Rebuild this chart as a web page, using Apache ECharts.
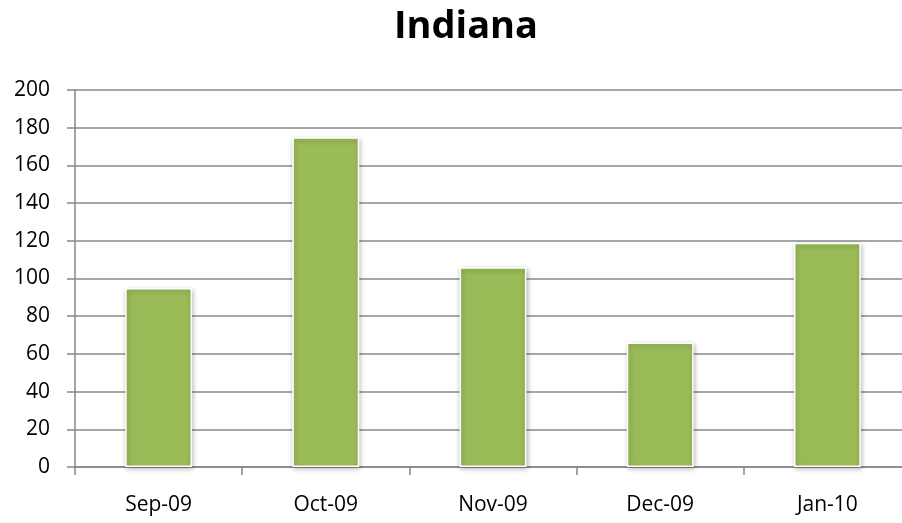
<!DOCTYPE html>
<html>
<head>
<meta charset="utf-8">
<script src="https://cdn.jsdelivr.net/npm/echarts@6/dist/echarts.min.js"></script>
<style>
  html, body { margin: 0; padding: 0; background: #fff; }
  #chart { width: 902px; height: 523px; }
</style>
</head>
<body>
<div id="chart"></div>
<script>
var months = ['Sep-09', 'Oct-09', 'Nov-09', 'Dec-09', 'Jan-10']
var counts = [95, 175, 106, 66, 119]
var yTicks = { min: 0, max: 200, step: 20 }

var myChart = echarts.init(document.getElementById('chart'))

var option = {
    backgroundColor: '#ffffff',
    animation: false,
    title: {
        text: 'Indiana',
        left: 461,
        textAlign: 'center',
        top: 3,
        textStyle: {
            fontFamily: 'Open Sans',
            fontSize: 38,
            fontWeight: 'bold',
            color: '#000'
        }
    },
    grid: {
        left: 75,
        width: 836,
        top: 90,
        bottom: 56,
        outerBoundsMode: 'none',
        containLabel: false
    },
    xAxis: {
        type: 'category',
        data: months,
        axisLine: { lineStyle: { color: '#868686', width: 1.5 } },
        axisTick: { show: true, length: 8, lineStyle: { color: '#868686', width: 1.5 } },
        axisLabel: {
            margin: 28,
            fontFamily: 'Open Sans',
            fontSize: 21,
            color: '#000'
        }
    },
    yAxis: {
        type: 'value',
        min: yTicks.min,
        max: yTicks.max,
        interval: yTicks.step,
        axisLine: { show: true, lineStyle: { color: '#868686', width: 1.5 } },
        axisTick: { show: true, length: 8, lineStyle: { color: '#868686', width: 1.5 } },
        splitLine: { lineStyle: { color: '#8a8a8a', width: 1.5 } },
        axisLabel: {
            margin: 25,
            fontFamily: 'Open Sans',
            fontSize: 21,
            color: '#000'
        }
    },
    series: [
        {
            name: 'Indiana',
            type: 'bar',
            data: counts,
            barWidth: '40%',
            itemStyle: {
                color: '#9BBB59',
                borderColor: '#ffffff',
                borderWidth: 1.5,
                shadowColor: 'rgba(0,0,0,0.3)',
                shadowBlur: 5,
                shadowOffsetX: 1,
                shadowOffsetY: 2
            }
        }
    ]
}

myChart.setOption(option)
</script>
</body>
</html>
